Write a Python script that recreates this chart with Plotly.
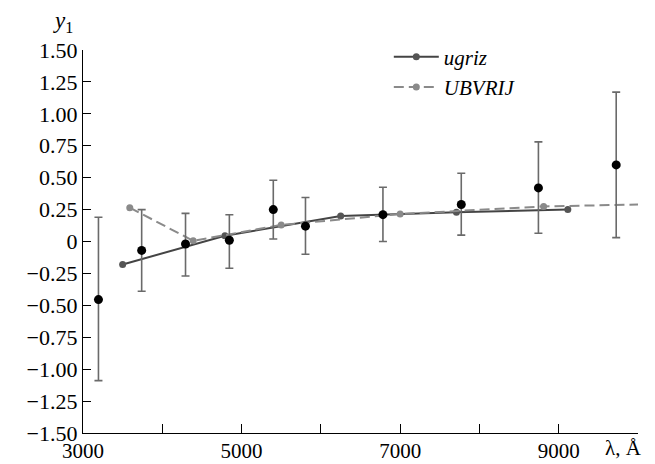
import plotly.graph_objects as go

# Observed points with error bars
lam_obs = [3195, 3740, 4293, 4846, 5400, 5806, 6783, 7771, 8744, 9725]
y_obs = [-0.455, -0.07, -0.02, 0.01, 0.25, 0.12, 0.21, 0.29, 0.42, 0.60]
y_top = [0.19, 0.25, 0.22, 0.21, 0.48, 0.345, 0.425, 0.535, 0.78, 1.17]
y_bot = [-1.09, -0.39, -0.27, -0.21, 0.02, -0.10, 0.0, 0.05, 0.065, 0.03]

# ugriz model
lam_ugriz = [3500, 4790, 6250, 7710, 9115]
y_ugriz = [-0.18, 0.045, 0.20, 0.23, 0.25]

# UBVRIJ model
lam_ubvrij = [3590, 4390, 5500, 7000, 8810, 12500]
y_ubvrij = [0.265, 0.005, 0.13, 0.215, 0.275, 0.32]

y_ticks = [1.5, 1.25, 1.0, 0.75, 0.5, 0.25, 0, -0.25, -0.5, -0.75, -1.0, -1.25, -1.5]
y_ticktext = ["1.50", "1.25", "1.00", "0.75", "0.50", "0.25", "0",
              "\u22120.25", "\u22120.50", "\u22120.75", "\u22121.00", "\u22121.25", "\u22121.50"]
x_ticks = [3000, 5000, 7000, 9000]
x_ticktext = ["3000", "5000", "7000", "9000"]
x_minor = [4000, 6000, 8000, 10000]

err_plus = [t - v for t, v in zip(y_top, y_obs)]
err_minus = [v - b for v, b in zip(y_obs, y_bot)]

FONT = "Liberation Serif, Times New Roman, Times, serif"

fig = go.Figure()

fig.add_trace(go.Scatter(
    x=lam_ugriz, y=y_ugriz, mode="lines+markers", name="<i>ugriz</i>",
    line=dict(color="#444444", width=2),
    marker=dict(color="#555555", size=7),
))
fig.add_trace(go.Scatter(
    x=lam_ubvrij, y=y_ubvrij, mode="lines+markers", name="<i>UBVRIJ</i>",
    line=dict(color="#8a8a8a", width=2, dash="10px,5px"),
    marker=dict(color="#8a8a8a", size=7),
))
fig.add_trace(go.Scatter(
    x=lam_obs, y=y_obs, mode="markers", showlegend=False,
    marker=dict(color="black", size=9),
    error_y=dict(type="data", symmetric=False, array=err_plus, arrayminus=err_minus,
                 color="#6a6a6a", thickness=1.6, width=4),
))

fig.update_layout(
    width=647, height=456,
    margin=dict(l=75, r=17, t=42, b=31),
    paper_bgcolor="white", plot_bgcolor="white",
    font=dict(family=FONT, size=22, color="black"),
    legend=dict(x=0.551, y=1.035, xanchor="left", yanchor="top",
                bgcolor="rgba(0,0,0,0)", font=dict(family=FONT, size=21), tracegroupgap=0,
                itemwidth=45),
)
fig.update_xaxes(
    range=[3000, 10000], tickmode="array", tickvals=x_ticks, ticktext=x_ticktext,
    tickfont=dict(family=FONT, size=21), ticklabelstandoff=-1,
    ticks="inside", ticklen=9, tickwidth=1.3, tickcolor="black",
    minor=dict(tickmode="array", tickvals=x_minor, ticks="inside", ticklen=9,
               tickwidth=1.3, tickcolor="black", showgrid=False),
    showline=True, linecolor="black", linewidth=1.3, showgrid=False, zeroline=False,
    automargin=False,
)
fig.update_yaxes(
    range=[-1.5, 1.5], tickmode="array", tickvals=y_ticks, ticktext=y_ticktext,
    tickfont=dict(family=FONT, size=22),
    ticks="inside", ticklen=8, tickwidth=1.3, tickcolor="black",
    showline=True, linecolor="black", linewidth=1.3, showgrid=False, zeroline=False,
    automargin=False,
)
fig.add_annotation(text="λ, Å", xref="x", yref="paper", x=10000, y=0,
                   xanchor="right", yanchor="top", showarrow=False, xshift=6, yshift=-1,
                   font=dict(family=FONT, size=21))
fig.add_annotation(text="<i>y</i><sub>1</sub>", xref="paper", yref="paper",
                   x=-0.015, y=1.0, xanchor="right", yanchor="bottom", showarrow=False,
                   yshift=12, font=dict(family=FONT, size=23))

fig.write_html("out.html")
